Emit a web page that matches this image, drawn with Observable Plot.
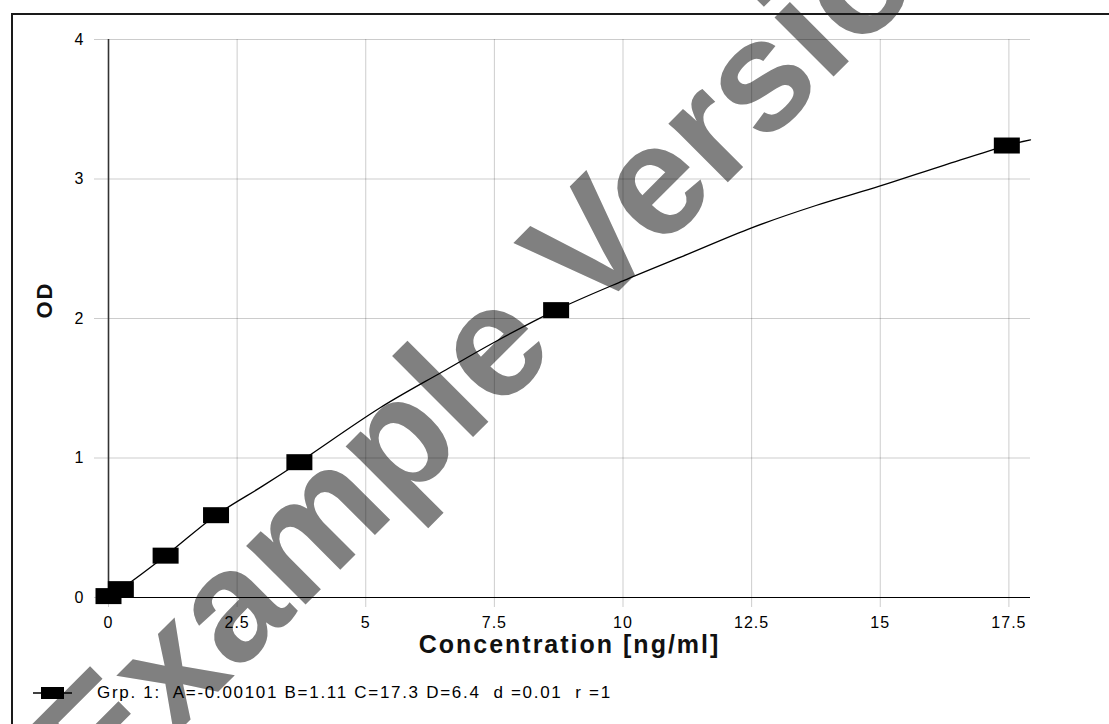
<!DOCTYPE html>
<html><head><meta charset="utf-8">
<script src="https://cdn.jsdelivr.net/npm/d3@7"></script>
<script src="https://cdn.jsdelivr.net/npm/@observablehq/plot@0.6"></script>
<style>
html,body{margin:0;padding:0;overflow:hidden;background:#fff;width:1109px;height:724px;}
#wrap{position:relative;width:1109px;height:724px;font-family:"Liberation Sans",Arial,sans-serif;overflow:hidden;}
#wm{position:absolute;left:0;top:0;z-index:0}
#frame{position:absolute;left:11px;top:13px;width:1200px;height:800px;border:2px solid #1a1a1a;z-index:1}
#chart{position:absolute;left:0;top:0;z-index:2}
#legend{position:absolute;left:33px;top:681px;z-index:2;display:flex;align-items:center;font-size:17px;letter-spacing:1.7px;color:#000;white-space:pre}
#chart [aria-label="x-axis tick label"] text,#chart [aria-label="y-axis tick label"] text{letter-spacing:1px}
#chart g[aria-label="text"] text{letter-spacing:2px}
</style></head>
<body>
<div id="wrap">
<svg id="wm" width="1109" height="724"><text x="99" y="811" transform="rotate(-45 99 811)" font-family="Liberation Sans, Arial, sans-serif" font-weight="bold" font-size="158" fill="#808080">Example Version</text></svg>
<div id="frame"></div>
<div id="chart"></div>
<div id="legend"></div>
</div>
<script>
// Tick values
const xTicks = [0, 2.5, 5, 7.5, 10, 12.5, 15, 17.5];
const yTicks = [0, 1, 2, 3, 4];
// Standards (measured points)
const stdConc = [0, 0.24, 1.11, 2.09, 3.71, 8.70, 17.46];
const stdOD   = [0.01, 0.06, 0.30, 0.59, 0.97, 2.06, 3.24];
// Fitted curve
const fitConc = [0, 0.24, 1.11, 2.09, 3.0, 3.71, 5.28, 6.5, 7.5, 8.70, 10, 11.25, 12.5, 13.75, 15, 16.25, 17.46, 17.92];
const fitOD   = [0.0, 0.06, 0.30, 0.59, 0.80, 0.97, 1.36, 1.62, 1.83, 2.06, 2.27, 2.46, 2.65, 2.81, 2.95, 3.10, 3.24, 3.28];
const xLabel = "Concentration [ng/ml]";
const yLabel = "OD";
const legendText = "Grp. 1:  A=-0.00101 B=1.11 C=17.3 D=6.4  d =0.01  r =1";

const points = stdConc.map((x, i) => ({x, y: stdOD[i]}));
const fit = fitConc.map((x, i) => ({x, y: fitOD[i]}));
const box = {draw(ctx) { ctx.rect(-13, -8, 26, 16); }};
const fmt = (d) => String(d);

const chart = Plot.plot({
  width: 1109,
  height: 672,
  marginTop: 39,
  marginBottom: 75,
  marginLeft: 108,
  marginRight: 79,
  style: {background: "transparent", fontFamily: "Liberation Sans, Arial, sans-serif", fontSize: "16px", color: "#000"},
  x: {domain: [0, 17.92]},
  y: {domain: [0, 4]},
  marks: [
    Plot.gridX(xTicks, {stroke: "#000", strokeOpacity: 0.2}),
    Plot.gridY(yTicks, {stroke: "#000", strokeOpacity: 0.2}),
    Plot.axisX(xTicks, {tickSize: 10, tickPadding: 9, stroke: "#000", strokeOpacity: 0.2, label: null, tickFormat: fmt}),
    Plot.axisY(yTicks, {tickSize: 14, tickPadding: 10, stroke: "#000", strokeOpacity: 0.2, label: null, tickFormat: fmt}),
    Plot.line(fit, {x: "x", y: "y", curve: "catmull-rom", stroke: "#000", strokeWidth: 1.3}),
    Plot.ruleX([0], {stroke: "#333", strokeWidth: 1.6}),
    Plot.ruleY([0], {stroke: "#000", strokeWidth: 1.2}),
    Plot.dot(points, {x: "x", y: "y", symbol: box, fill: "#000", stroke: "none", r: 5}),
    Plot.text([xLabel], {frameAnchor: "bottom", dy: 55, fontSize: 25, fontWeight: "bold", fill: "#111"}),
    Plot.text([yLabel], {frameAnchor: "left", rotate: -90, dx: -64, fontSize: 22, fontWeight: "bold", fill: "#111"})
  ]
});
document.getElementById("chart").appendChild(chart);

const lg = document.getElementById("legend");
lg.innerHTML = '<svg width="64" height="24" style="flex:none"><line x1="0" y1="12" x2="39" y2="12" stroke="#000" stroke-width="1.5"/><rect x="8" y="6" width="23" height="12" fill="#000"/></svg>';
const sp = document.createElement("span");
sp.textContent = legendText;
lg.appendChild(sp);
</script>
</body></html>
